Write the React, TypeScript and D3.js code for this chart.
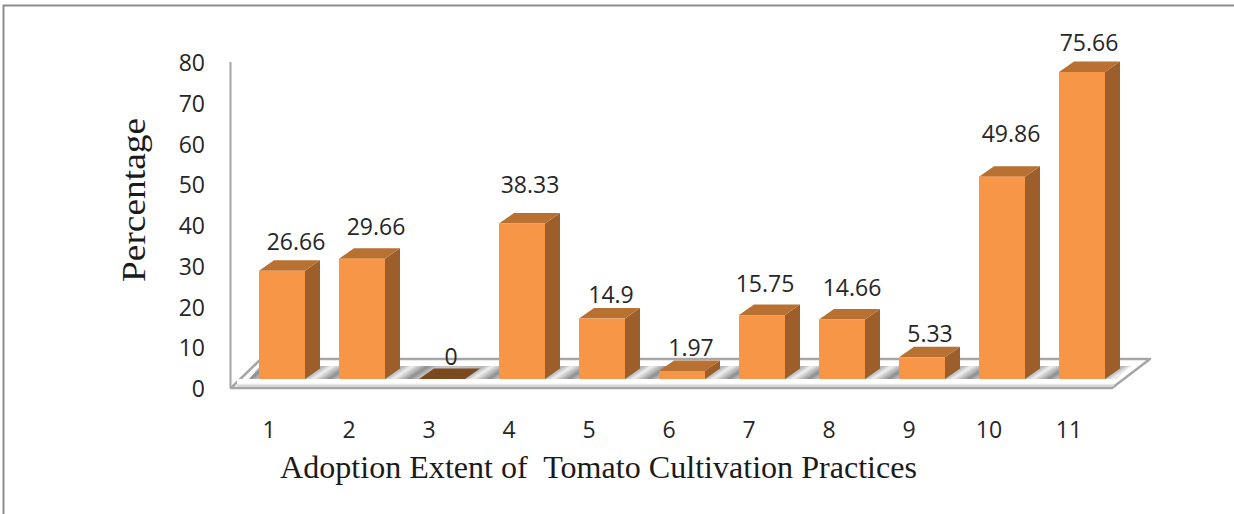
import React from "react";
import * as d3 from "d3";

const categories = ["1", "2", "3", "4", "5", "6", "7", "8", "9", "10", "11"];
const values = [26.66, 29.66, 0, 38.33, 14.9, 1.97, 15.75, 14.66, 5.33, 49.86, 75.66];
const valueLabels = ["26.66", "29.66", "0", "38.33", "14.9", "1.97", "15.75", "14.66", "5.33", "49.86", "75.66"];
const yTicks = [0, 10, 20, 30, 40, 50, 60, 70, 80];
// Hand-placed label offsets of the original (dx from bar centre, dy above bar top)
const labelDx = [14, 14, 9, 8, 9, 9, 3, 10, 8, 9, 7];
const labelDy = [30, 33, 23, 39, 25, 24, 32, 33, 24, 44, 30];

const W = 1234, H = 514;
const DX = 15, DY = -10.5;
const floorL = 231, floorR = 1111, floorFront = 388, wallTop = 62;

const axisX = d3.scaleBand<string>().domain(categories).range([floorL - 1, floorR - 1]);
const barX = d3.scaleBand<string>().domain(categories).range([242, 1122]).paddingInner(0.425).paddingOuter(0.2125);
const tickY = d3.scaleLinear().domain([0, 80]).range([floorFront, wallTop]);
const barY = d3.scaleLinear().domain([0, 75.66]).range([379, 72]);

const pts = (a: number[][]) => a.map(p => p.join(",")).join(" ");
const FRONT = "#F79646", TOP = "#B97131", SIDE = "#9C5E2A", ZERO = "#7A491F", LINE = "#A6A6A6";
const NUM = "'Open Sans', sans-serif";
const SERIF = "'Liberation Serif', serif";

export default function App() {
  const bw = barX.bandwidth();
  const band = pts([[floorL + 18, 379], [floorL + 29, 366], [1131, 366], [1116, 379]]);
  return (
    <svg width={W} height={H} style={{ position: "absolute", left: 0, top: 0, background: "#fff" }}>
      <defs>
        <linearGradient id="floorBand" gradientUnits="userSpaceOnUse" x1={305} y1={379} x2={329.6} y2={415.9} spreadMethod="repeat">
          <stop offset="0" stopColor="#b8b8b8" />
          <stop offset="0.1" stopColor="#f0f0f0" />
          <stop offset="0.3" stopColor="#8e8e8e" />
          <stop offset="0.42" stopColor="#c8c8c8" />
          <stop offset="1" stopColor="#b8b8b8" />
        </linearGradient>
        <linearGradient id="frontFade" x1="0" x2="0" y1="0" y2="1">
          <stop offset="0" stopColor="#ffffff" />
          <stop offset="0.55" stopColor="#ffffff" />
          <stop offset="1" stopColor="#c8c8c8" />
        </linearGradient>
      </defs>
      {/* outer frame */}
      <path d={`M3.5,${H} V5.5 H${W}`} fill="none" stroke="#8c8c8c" strokeWidth={2} />

      {/* wall axis and floor */}
      <polygon
        points={pts([[floorL, floorFront], [floorL + 30, 359], [1150, 359], [floorR + 1, floorFront]])}
        fill="#ffffff" stroke={LINE} strokeWidth={2.5} strokeLinejoin="round"
      />
      <polygon points={band} fill="url(#floorBand)" />
      <rect x={floorL + 6} y={379} width={floorR - floorL - 3} height={7.5} fill="url(#frontFade)" />
      <line x1={230.5} x2={230.5} y1={wallTop} y2={floorFront} stroke={LINE} strokeWidth={2} />

      {/* bars */}
      {categories.map((c, i) => {
        const x = barX(c)!;
        const y = barY(values[i]);
        const y0 = barY(0);
        if (values[i] === 0) {
          return <polygon key={c} points={pts([[x, y0], [x + DX, y0 + DY], [x + bw + DX, y0 + DY], [x + bw, y0]])} fill={ZERO} />;
        }
        return (
          <g key={c}>
            <polygon points={pts([[x + bw, y], [x + bw + DX, y + DY], [x + bw + DX, y0 + DY], [x + bw, y0]])} fill={SIDE} />
            <polygon points={pts([[x, y], [x + DX, y + DY], [x + bw + DX, y + DY], [x + bw, y]])} fill={TOP} />
            <rect x={x} y={y} width={bw} height={y0 - y} fill={FRONT} />
          </g>
        );
      })}

      {/* value labels */}
      {categories.map((c, i) => (
        <text key={c} x={barX(c)! + bw / 2 + labelDx[i]} y={barY(values[i]) - labelDy[i]} textAnchor="middle"
          dominantBaseline="central" fontFamily={NUM} fontSize={23} fill="#262626">{valueLabels[i]}</text>
      ))}

      {/* axis labels */}
      {yTicks.map(t => (
        <text key={t} x={205} y={tickY(t)} textAnchor="end" dominantBaseline="central"
          fontFamily={NUM} fontSize={23} fill="#262626">{t}</text>
      ))}
      {categories.map(c => (
        <text key={c} x={axisX(c)! + axisX.bandwidth() / 2 - 1} y={429} textAnchor="middle" dominantBaseline="central"
          fontFamily={NUM} fontSize={23} fill="#262626">{c}</text>
      ))}

      {/* titles */}
      <text transform="translate(134,200) rotate(-90)" textAnchor="middle" dominantBaseline="central"
        fontFamily={SERIF} fontSize={33} textLength={164} lengthAdjust="spacingAndGlyphs" fill="#1a1a1a">Percentage</text>
      <text x={598.5} y={467} textAnchor="middle" dominantBaseline="central" fontFamily={SERIF} fontSize={31}
        textLength={637} lengthAdjust="spacingAndGlyphs" fill="#1a1a1a" xmlSpace="preserve">Adoption Extent of  Tomato Cultivation Practices</text>
    </svg>
  );
}
